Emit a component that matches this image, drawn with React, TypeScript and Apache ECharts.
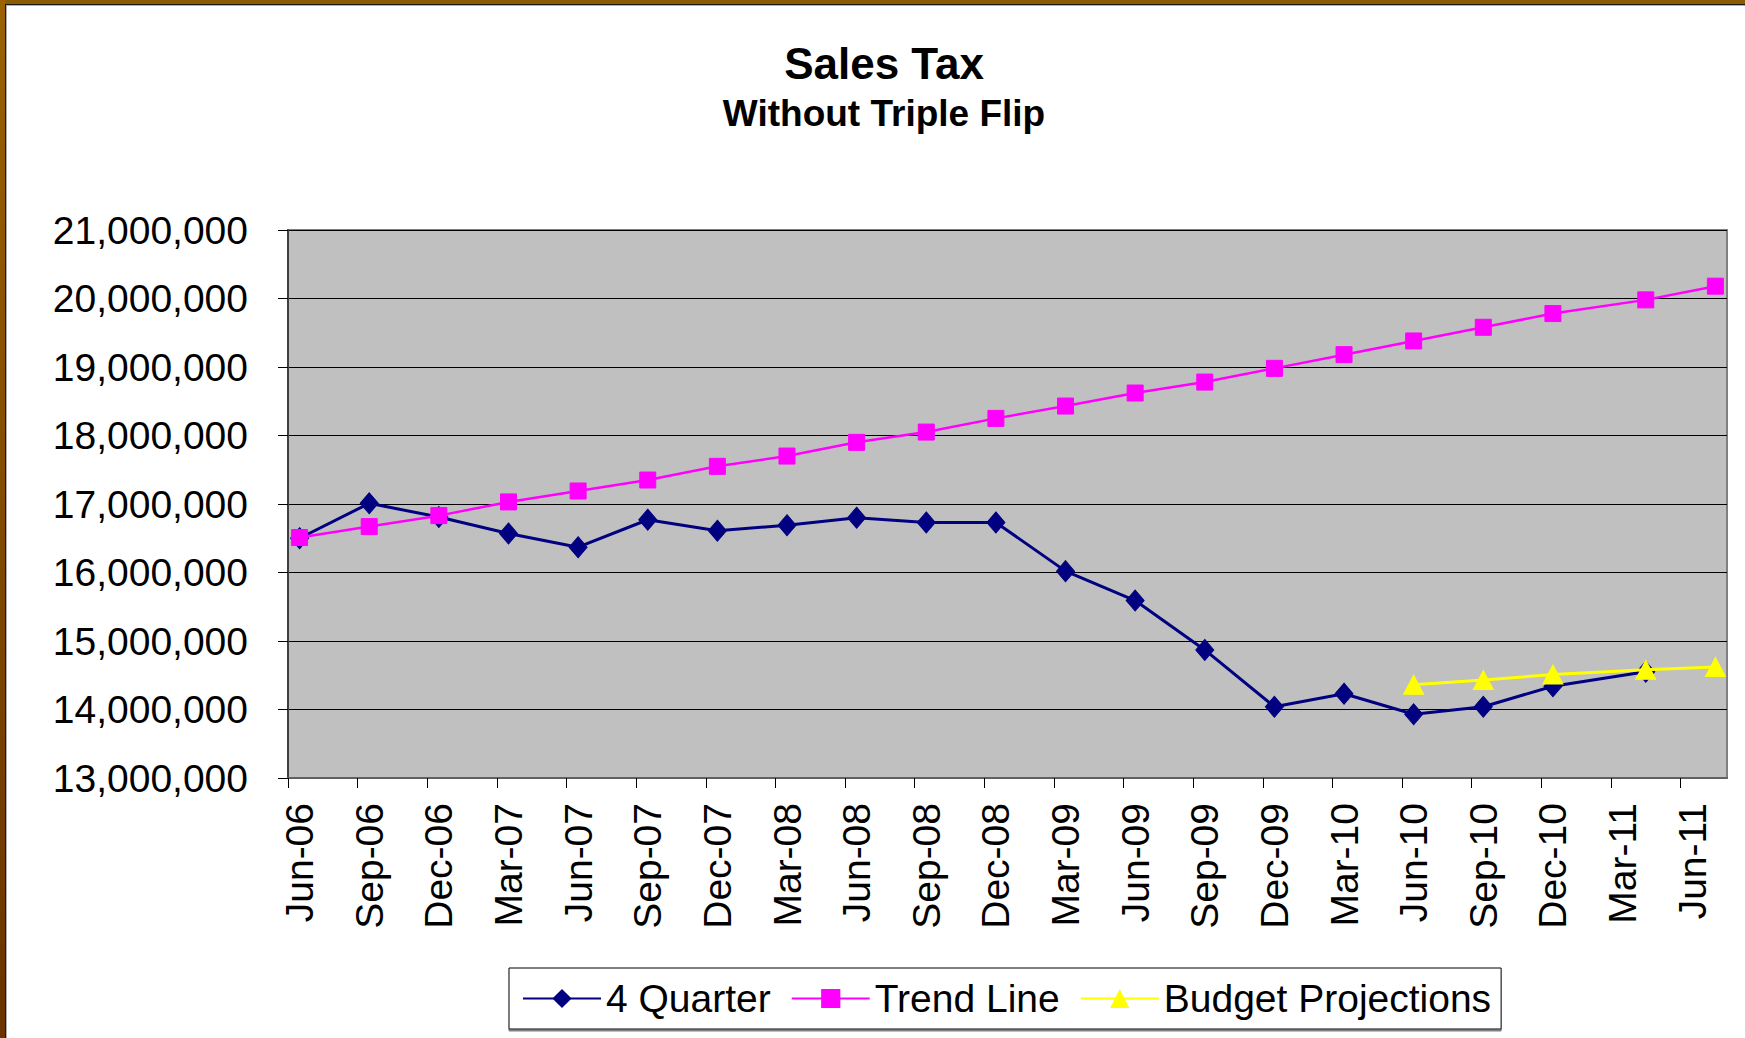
import React, { useEffect, useRef } from "react";
import * as echarts from "echarts";

// Period of each data point (year-month); the axis is a monthly date axis starting Jun 2006
const periods = [
  "2006-06", "2006-09", "2006-12", "2007-03", "2007-06", "2007-09", "2007-12",
  "2008-03", "2008-06", "2008-09", "2008-12", "2009-03", "2009-06", "2009-09",
  "2009-12", "2010-03", "2010-06", "2010-09", "2010-12", "2011-04", "2011-07",
];

const tickLabels = [
  "Jun-06", "Sep-06", "Dec-06", "Mar-07", "Jun-07", "Sep-07", "Dec-07",
  "Mar-08", "Jun-08", "Sep-08", "Dec-08", "Mar-09", "Jun-09", "Sep-09",
  "Dec-09", "Mar-10", "Jun-10", "Sep-10", "Dec-10", "Mar-11", "Jun-11",
];

const quarter4 = [
  16500000, 17010000, 16810000, 16570000, 16370000, 16770000, 16610000,
  16690000, 16800000, 16730000, 16730000, 16020000, 15590000, 14870000,
  14040000, 14230000, 13930000, 14040000, 14340000, 14550000, null,
];

const trendLine = [
  16510000, 16670000, 16830000, 17030000, 17190000, 17350000, 17550000,
  17700000, 17900000, 18050000, 18250000, 18430000, 18620000, 18780000,
  18980000, 19180000, 19380000, 19580000, 19780000, 19980000, 20180000,
];

const budgetProjections = [
  null, null, null, null, null, null, null,
  null, null, null, null, null, null, null,
  null, null, 14360000, 14430000, 14510000, 14580000, 14620000,
];

const yTicks = [13000000, 14000000, 15000000, 16000000, 17000000, 18000000, 19000000, 20000000, 21000000];

const START_YEAR = 2006;
const START_MONTH = 6;
const AXIS_MONTHS = 62; // Jun-06 .. end of Jul-11
const TICK_STEP = 3;

const FONT = "'Liberation Sans', Arial, Helvetica, sans-serif";

function monthOffset(p: string): number {
  const [y, m] = p.split("-").map(Number);
  return (y - START_YEAR) * 12 + (m - START_MONTH);
}

function toPoints(values: (number | null)[]) {
  const out: [number, number][] = [];
  values.forEach((v, i) => {
    if (v !== null) out.push([monthOffset(periods[i]) + 0.5, v]);
  });
  return out;
}

export default function App() {
  const ref = useRef<HTMLDivElement>(null);

  useEffect(() => {
    if (!ref.current) return;
    const chart = echarts.init(ref.current, undefined, { renderer: "svg" });

    const tickPos = tickLabels.map((_, i) => i * TICK_STEP);
    const labelPos = tickLabels.map((_, i) => i * TICK_STEP + 0.5);

    chart.setOption({
      animation: false,
      backgroundColor: "#ffffff",
      title: {
        text: "Sales Tax",
        subtext: "Without Triple Flip",
        left: 879,
        top: 36,
        textAlign: "center",
        itemGap: 10,
        textStyle: { fontFamily: FONT, fontSize: 44, fontWeight: "bold", color: "#000" },
        subtextStyle: { fontFamily: FONT, fontSize: 37, fontWeight: "bold", color: "#000" },
      },
      grid: {
        left: 288,
        right: 18,
        top: 230,
        bottom: 260,
        show: true,
        backgroundColor: "#C0C0C0",
        borderColor: "#808080",
        borderWidth: 2,
      },
      legend: {
        left: 509,
        top: 968,
        orient: "horizontal",
        padding: [11, 10, 11, 13],
        itemWidth: 78,
        itemHeight: 24,
        itemGap: 20,
        backgroundColor: "#ffffff",
        borderColor: "#000000",
        borderWidth: 1,
        borderRadius: 0,
        shadowColor: "#808080",
        shadowOffsetY: 2,
        shadowOffsetX: 0,
        shadowBlur: 1,
        textStyle: { fontFamily: FONT, fontSize: 39, color: "#000" },
        data: ["4 Quarter", "Trend Line", "Budget Projections"],
      },
      xAxis: {
        type: "value",
        min: 0,
        max: AXIS_MONTHS,
        interval: TICK_STEP,
        axisLine: { show: true, onZero: false, lineStyle: { color: "#606060", width: 2 } },
        axisTick: {
          show: true,
          length: 10,
          inside: false,
          customValues: tickPos,
          lineStyle: { color: "#000", width: 1 },
        },
        axisLabel: {
          show: true,
          rotate: 90,
          margin: 25,
          customValues: labelPos,
          fontFamily: FONT,
          fontSize: 39,
          color: "#000",
          formatter: (v: number) => {
            const i = Math.round((v - 0.5) / TICK_STEP);
            return tickLabels[i] ?? "";
          },
        },
        splitLine: { show: false },
      },
      yAxis: {
        type: "value",
        min: yTicks[0],
        max: yTicks[yTicks.length - 1],
        interval: yTicks[1] - yTicks[0],
        axisLine: { show: true, lineStyle: { color: "#404040", width: 2 } },
        axisTick: { show: true, length: 10, inside: false, lineStyle: { color: "#000", width: 1 } },
        axisLabel: {
          margin: 40,
          fontFamily: FONT,
          fontSize: 39,
          color: "#000",
          formatter: (v: number) => v.toLocaleString("en-US"),
        },
        splitLine: { show: true, lineStyle: { color: "#000000", width: 1 } },
      },
      series: [
        {
          name: "4 Quarter",
          type: "line",
          data: toPoints(quarter4),
          symbol: "diamond",
          symbolSize: [18, 21],
          lineStyle: { color: "#000080", width: 3 },
          itemStyle: { color: "#000080", borderColor: "#000080" },
          z: 2,
        },
        {
          name: "Trend Line",
          type: "line",
          data: toPoints(trendLine),
          symbol: "rect",
          symbolSize: 16,
          lineStyle: { color: "#FF00FF", width: 2.5 },
          itemStyle: { color: "#FF00FF", borderColor: "#FF00FF" },
          z: 3,
        },
        {
          name: "Budget Projections",
          type: "line",
          data: toPoints(budgetProjections),
          symbol: "triangle",
          symbolSize: [20, 19],
          lineStyle: { color: "#FFFF00", width: 3 },
          itemStyle: { color: "#FFFF00", borderColor: "#FFFF00" },
          z: 4,
        },
      ],
      graphic: [
        {
          type: "rect",
          z: 100,
          shape: { x: 0, y: 0, width: 1745, height: 4 },
          style: { fill: "#8C5A00" },
        },
        {
          type: "rect",
          z: 100,
          shape: { x: 0, y: 4, width: 1745, height: 1 },
          style: { fill: "#1a1a1a" },
        },
        {
          type: "rect",
          z: 100,
          shape: { x: 0, y: 5, width: 1745, height: 1 },
          style: { fill: "#b0b0b0" },
        },
        {
          type: "rect",
          z: 101,
          shape: { x: 0, y: 0, width: 5, height: 1038 },
          style: {
            fill: new echarts.graphic.LinearGradient(0, 0, 0, 1, [
              { offset: 0, color: "#9A6200" },
              { offset: 1, color: "#6A3300" },
            ]),
          },
        },
        {
          type: "rect",
          z: 101,
          shape: { x: 5, y: 4, width: 1, height: 1034 },
          style: { fill: "#1a1a1a" },
        },
        {
          type: "rect",
          z: 101,
          shape: { x: 6, y: 5, width: 1, height: 1033 },
          style: { fill: "#b0b0b0" },
        },
      ],
    });

    return () => chart.dispose();
  }, []);

  return (
    <div
      ref={ref}
      style={{ position: "fixed", left: 0, top: 0, width: 1745, height: 1038 }}
    />
  );
}
